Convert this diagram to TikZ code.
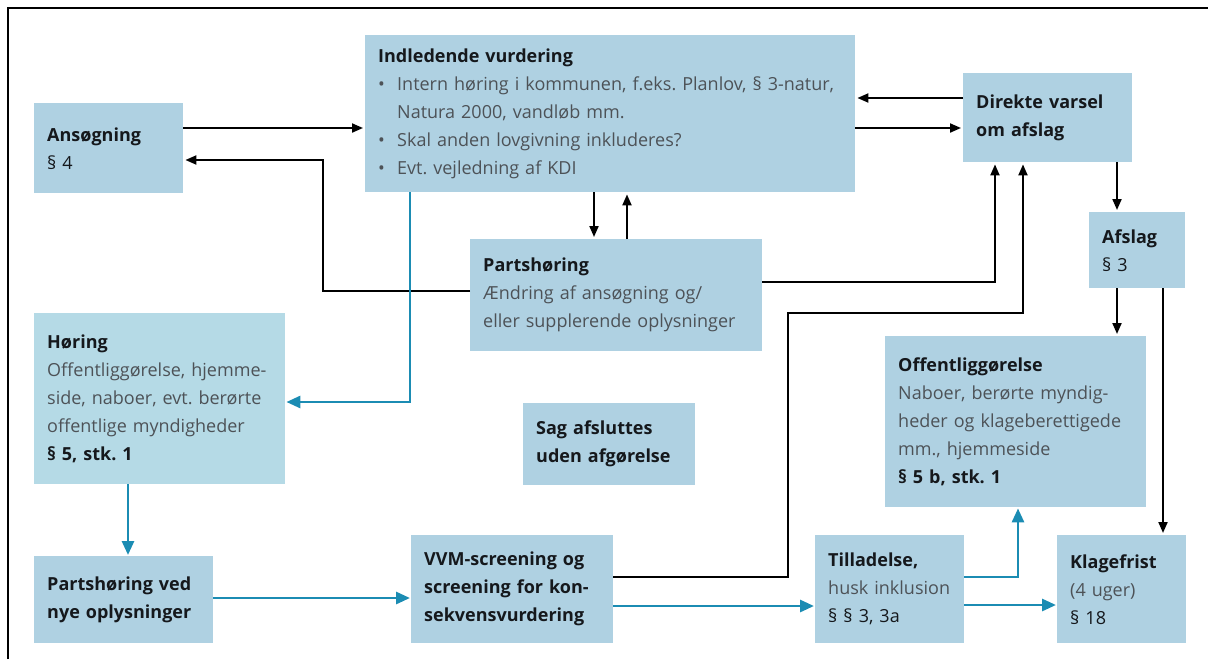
\documentclass[tikz,border=0pt]{standalone}
\usepackage{fontspec}
\setmainfont{Open Sans}
\usetikzlibrary{arrows.meta}

\definecolor{boxblue}{HTML}{AFD1E2}
\definecolor{hoerblue}{HTML}{B5DAE6}
\definecolor{flowteal}{HTML}{1B8CB3}
\definecolor{bodygray}{HTML}{4D5257}
\definecolor{titlecol}{HTML}{15181C}

\newcommand{\boxhead}[1]{{\bfseries\color{titlecol}#1}}
\newcommand{\paranr}[1]{{\color{titlecol}#1}}
\newcommand{\bul}{\makebox[19pt][l]{\textbullet}}
\frenchspacing

\tikzset{
  box/.style={fill=boxblue, anchor=north west, align=left, inner xsep=13pt,
    inner ysep=0pt, text=bodygray, font=\fontsize{18}{28}\selectfont},
  arr/.style={draw=black, line width=2pt, -{Triangle[length=11pt,width=9pt]}, shorten >=2pt},
  tarr/.style={draw=flowteal, line width=2.8pt, -{Triangle[length=14pt,width=12pt]}, shorten >=1pt},
}

\begin{document}
\begin{tikzpicture}[x=1pt,y=-1pt]
        \useasboundingbox (0,0) rectangle (1208,659);

        % frame
        \draw[line width=2.4pt] (8,659) -- (8,8) -- (1208,8);

        % boxes
        \node[box, text width=123pt, minimum height=90pt] (ans) at (34,103)
          {\boxhead{Ansøgning}\\ \paranr{§ 4}};
        \node[box, text width=464pt, minimum height=157pt] (ind) at (365,35)
          {\boxhead{Indledende vurdering}\\
           \mbox{\bul Intern høring i kommunen, f.eks. Planlov, § 3-natur,}\\
           \hspace*{19pt}Natura 2000, vandløb mm.\\
           \bul Skal anden lovgivning inkluderes?\\
           \bul Evt. vejledning af KDI};
        \node[box, text width=143pt, minimum height=89pt] (dir) at (963,73)
          {\boxhead{Direkte varsel}\\ \boxhead{om afslag}};
        \node[box, text width=70pt, minimum height=76pt] (afs) at (1089,212)
          {\boxhead{Afslag}\\ \paranr{§ 3}};
        \node[box, text width=266pt, minimum height=112pt] (par) at (470,239)
          {\boxhead{Partshøring}\\ Ændring af ansøgning og/\\ \mbox{eller supplerende oplysninger}};
        \node[box, text width=146pt, minimum height=82pt] (sag) at (523,403)
          {\boxhead{Sag afsluttes}\\ \boxhead{uden afgørelse}};
        \node[box, fill=hoerblue, text width=225pt, minimum height=171pt] (hor) at (34,313)
          {\boxhead{Høring}\\ \mbox{Offentliggørelse, hjemme-}\\ side, naboer, evt. berørte\\
           offentlige myndigheder\\ \boxhead{§ 5, stk. 1}};
        \node[box, text width=153pt, minimum height=87pt] (pvn) at (34,556)
          {\boxhead{\mbox{Partshøring ved}}\\ \boxhead{\mbox{nye oplysninger}}};
        \node[box, text width=176pt, minimum height=108pt] (vvm) at (411,535)
          {\boxhead{\mbox{VVM-screening og}}\\ \boxhead{\mbox{screening for kon-}}\\ \boxhead{sekvensvurdering}};
        \node[box, text width=235pt, minimum height=171pt] (off) at (885,336)
          {\boxhead{Offentliggørelse}\\ Naboer, berørte myndig-\\ \mbox{heder og klageberettigede}\\
           mm., hjemmeside\\ \boxhead{§ 5 b, stk. 1}};
        \node[box, text width=123pt, minimum height=108pt] (til) at (815,535)
          {\boxhead{Tilladelse,}\\ husk inklusion\\ \paranr{§ § 3, 3a}};
        \node[box, text width=103pt, minimum height=108pt] (kla) at (1057,535)
          {\boxhead{Klagefrist}\\ (4 uger)\\ \paranr{§ 18}};

        \coordinate (vvmbend) at (788,313);

        % black connectors
        \draw[arr] ([shift={(0,25)}]ans.north east) -- ([shift={(0,93)}]ind.north west);
        \draw[arr] ([shift={(0,52)}]par.north west) -| ([shift={(140,57)}]ans.north east)
          -- ([shift={(0,57)}]ans.north east);
        \draw[arr] ([shift={(229,0)}]ind.south west) -- ([shift={(124,0)}]par.north west);
        \draw[arr] ([shift={(157,0)}]par.north west) -- ([shift={(262,0)}]ind.south west);
        \draw[arr] ([shift={(0,25)}]dir.north west) -- ([shift={(0,63)}]ind.north east);
        \draw[arr] ([shift={(0,93)}]ind.north east) -- ([shift={(0,55)}]dir.north west);
        \draw[arr] ([shift={(0,43)}]par.north east) -| ([shift={(32,0)}]dir.south west);
        \draw[arr] ([shift={(0,42)}]vvm.north east) -| (vvmbend) -| ([shift={(60,0)}]dir.south west);
        \draw[arr] ([shift={(154,0)}]dir.south west) -- ([shift={(28,0)}]afs.north west);
        \draw[arr] ([shift={(28,0)}]afs.south west) -- ([shift={(232,0)}]off.north west);
        \draw[arr] ([shift={(74,0)}]afs.south west) -- ([shift={(106,0)}]kla.north west);

        % teal connectors
        \draw[tarr] ([shift={(45,0)}]ind.south west) |- ([shift={(0,89)}]hor.north east);
        \draw[tarr] ([shift={(94,0)}]hor.south west) -- ([shift={(94,0)}]pvn.north west);
        \draw[tarr] ([shift={(0,42)}]pvn.north east) -- ([shift={(0,63)}]vvm.north west);
        \draw[tarr] ([shift={(0,71)}]vvm.north east) -- ([shift={(0,71)}]til.north west);
        \draw[tarr] ([shift={(0,42)}]til.north east) -| ([shift={(133,0)}]off.south west);
        \draw[tarr] ([shift={(0,70)}]til.north east) -- ([shift={(0,70)}]kla.north west);

      \end{tikzpicture}
\end{document}
